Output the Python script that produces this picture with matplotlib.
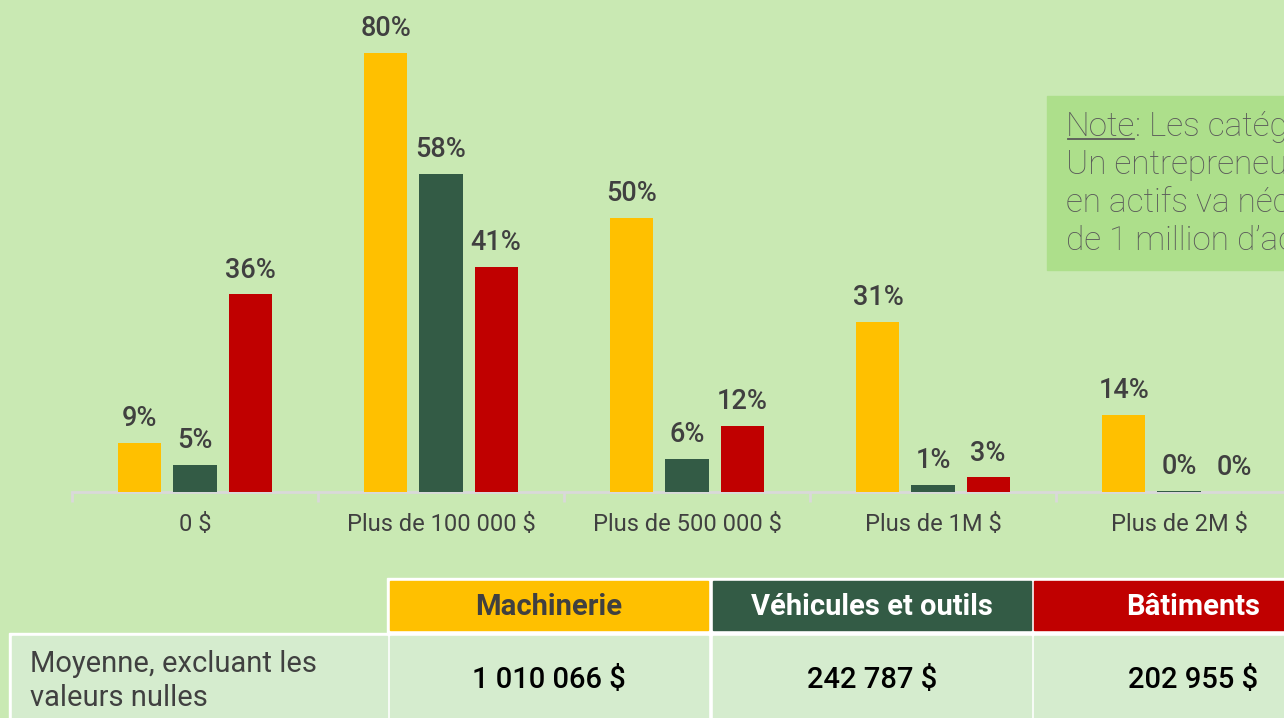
import matplotlib
matplotlib.use("Agg")
import matplotlib.pyplot as plt
import numpy as np
from matplotlib.patches import Rectangle

plt.rcParams['font.family'] = ['Roboto', 'DejaVu Sans']

categories = ["0 $", "Plus de 100 000 $", "Plus de 500 000 $", "Plus de 1M $", "Plus de 2M $"]
machinerie = [9, 80, 50, 31, 14]
vehicules = [5, 58, 6, 1.3, 0.2]
batiments = [36, 41, 12, 2.7, 0]
labels_m = ["9%", "80%", "50%", "31%", "14%"]
labels_v = ["5%", "58%", "6%", "1%", "0%"]
labels_b = ["36%", "41%", "12%", "3%", "0%"]

series_names = ["Machinerie", "Véhicules et outils", "Bâtiments"]
moyennes = ["1 010 066 $", "242 787 $", "202 955 $"]
row_label = ["Moyenne, excluant les", "valeurs nulles"]

note_lines = [": Les catégories sont cumulatives.",
              "Un entrepreneur ayant plus de 2M $",
              "en actifs va nécessairement avoir plus",
              "de 1 million d’actifs."]

BG = "#c9e9b3"
YEL = "#ffc000"
GRN = "#335b45"
RED = "#c00000"
TXT = "#404040"

W, H = 1284, 718
fig = plt.figure(figsize=(W / 100, H / 100), dpi=100, facecolor=BG)

# chart area (pixel layout)
ax = fig.add_axes([72 / W, 1 - 492 / H, 1 - 72 / W, 492 / H])
ax.set_facecolor("none")
x = np.arange(len(categories))
bw = 0.175
off = 0.224
for vals, labs, col, dx in [(machinerie, labels_m, YEL, -off),
                            (vehicules, labels_v, GRN, 0),
                            (batiments, labels_b, RED, off)]:
    ax.bar(x + dx, vals, width=bw, color=col, zorder=3)
    for xi, v, lab in zip(x, vals, labs):
        ax.annotate(lab, (xi + dx, v), xytext=(0, 12), textcoords="offset points",
                    ha="center", va="baseline", fontsize=19.5, fontweight="medium", color=TXT)

for s in ["top", "right", "left"]:
    ax.spines[s].set_visible(False)
ax.spines["bottom"].set_color("#d9d9d9")
ax.spines["bottom"].set_linewidth(2)
ax.set_yticks([])
ax.set_xticks(x)
ax.set_xticklabels(categories, fontsize=17, color=TXT)
ax.tick_params(axis="x", which="major", length=0, pad=15)
ax.set_xticks(np.arange(-0.5, 5, 1), minor=True)
ax.tick_params(axis="x", which="minor", length=7, width=2, color="#d9d9d9")
ax.set_xlim(-0.5, -0.5 + (W - 72) / 246)
ax.set_ylim(0, 492 / 5.49)

# overlay for note box and table, in pixel coords
ov = fig.add_axes([0, 0, 1, 1])
ov.set_xlim(0, W)
ov.set_ylim(H, 0)
ov.axis("off")
ov.set_facecolor("none")

ov.add_patch(Rectangle((1047, 96), 400, 174, color="#addf8b", zorder=1))
note_kw = dict(fontsize=24, fontweight="light", color="#595959", va="baseline", ha="left", zorder=2)
t_note = ov.text(1066, 136, "Note", **note_kw)
fig.canvas.draw()
bb = t_note.get_window_extent()
x1 = bb.x1
ov.plot([1068, x1 - 1], [139, 139], color="#595959", lw=1.3, zorder=2)
ov.text(x1, 136, note_lines[0], **note_kw)
for i, line in enumerate(note_lines[1:]):
    ov.text(1066, 174 + 38 * i, line, **note_kw)

# table
cols = [(390, 708), (713, 1031), (1034, 1352)]
head_cols = [YEL, GRN, RED]
head_txt = [TXT, "white", "white"]
ov.add_patch(Rectangle((9, 633), 1400, 100, color="white", zorder=1))
ov.add_patch(Rectangle((387, 578), 1000, 60, color="white", zorder=1))
ov.add_patch(Rectangle((12, 636), 375, 90, color="#d5ecce", zorder=2))
ov.text(30, 664, row_label[0], fontsize=21, color=TXT, va="center", zorder=3)
ov.text(30, 698, row_label[1], fontsize=21, color=TXT, va="center", zorder=3)
for (a, b), hc, tc, name, val in zip(cols, head_cols, head_txt, series_names, moyennes):
    ov.add_patch(Rectangle((a, 581), b - a, 49, color=hc, zorder=2))
    ov.add_patch(Rectangle((a, 636), b - a, 90, color="#d5ecce", zorder=2))
    ov.text((a + b) / 2, 607, name, fontsize=21, fontweight="bold", color=tc,
            ha="center", va="center", zorder=3)
    ov.text((a + b) / 2, 680, val, fontsize=21, fontweight="medium", color="black",
            ha="center", va="center", zorder=3)

fig.savefig("out.png", dpi=100, facecolor=BG)
